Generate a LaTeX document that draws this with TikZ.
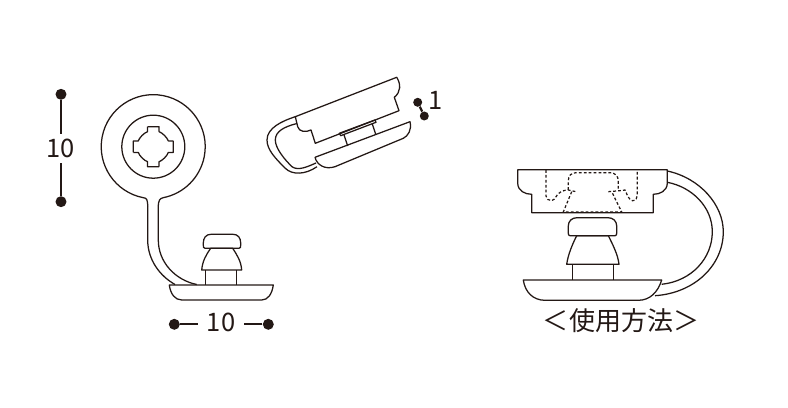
\documentclass[tikz,border=0pt]{standalone}
\usepackage{fontspec}
\setmainfont{Noto Sans CJK JP}
\definecolor{inkcol}{HTML}{231815}
\tikzset{
  part/.style={draw=inkcol,line width=0.72pt,line join=round},
  hidden/.style={draw=inkcol,line width=0.7pt,dash pattern=on 1.6pt off 1.2pt},
  dimline/.style={draw=inkcol,line width=1.25pt},
  dimdot/.style={circle,fill=inkcol,inner sep=0pt,minimum size=0.22cm},
  dimtext/.style={text=inkcol,inner sep=0pt,font=\fontsize{14.5pt}{16pt}\selectfont}
}
\begin{document}
\begin{tikzpicture}[x=0.02cm,y=-0.02cm]
\useasboundingbox (0,0) rectangle (788,408);
% disc with stem
\draw[part] (153.3,146.7) circle (31.5);
\draw[part] (147.7,207) .. controls (147.7,200) and (147,198) .. (143.3,197.7)
  arc[start angle=101,delta angle=338,radius=52]
  .. controls (160,198.5) and (158.3,200) .. (158.3,207)
  -- (158.3,240) .. controls (158.3,262) and (175,280) .. (196.7,284.5);
\draw[part] (147.7,207) -- (147.7,240) .. controls (147.7,260) and (160,276) .. (175,284.5);
\foreach \a in {0,90,180,270}
  \draw[part,shift={(153.3,146.7)},rotate=\a] (-5.8,-20) -- (5.8,-20) -- (5.8,-15)
    .. controls (9,-14) and (14,-9) .. (15,-5.8) -- (20,-5.8);
% stud
\draw[part] (169.3,285) -- (273.3,285) .. controls (272,294) and (268,300) .. (261.7,300)
  -- (181.7,300) .. controls (175,300) and (170.5,294) .. (169.3,285) -- cycle;
\draw[part] (205.7,285) -- (205.7,270) (236.7,285) -- (236.7,270);
\draw[part] (201.7,270) .. controls (202.5,261) and (206,255) .. (210.7,248.3)
  -- (232.7,248.3) .. controls (237,255) and (241,261) .. (241.7,270) -- cycle;
\draw[part] (205,248.3) .. controls (203.5,248.3) and (203.3,247) .. (203.3,245)
  -- (203.3,243) .. controls (203.3,238) and (206,234.3) .. (211,234.3) -- (233,234.3)
  .. controls (238,234.3) and (240.7,238) .. (240.7,243) -- (240.7,245)
  .. controls (240.7,247) and (240.5,248.3) .. (239,248.3) -- cycle;
% folded view
\draw[part] (295.3,116.7) -- (396.7,77.3) .. controls (401,84) and (401,92) .. (394.3,97.3)
  -- (399,110.7) -- (315.3,143.3) -- (311,130) .. controls (306,132.5) and (299,132) .. (297.7,126.7) -- cycle;
\draw[part] (295.3,116.7) .. controls (282,121) and (267,128) .. (267,140)
  .. controls (267,150) and (276,159) .. (285.3,168.3)
  .. controls (292,175) and (305,175) .. (317,166.7);
\draw[part] (297,123.5) .. controls (285,126.5) and (275.3,131) .. (275.3,140)
  .. controls (275.3,148) and (284,159) .. (292,166.7)
  .. controls (298,171) and (307,167) .. (316,163);
\draw[part] (315,157.3) -- (410,121.7) .. controls (412,130) and (408,136) .. (403.3,138.3)
  -- (335,166.7) .. controls (325,170) and (317,165) .. (315,157.3);
\draw[part] (339.3,133.3) -- (375,120) -- (376,122.3) -- (340.7,135.7) -- cycle;
\draw[part] (344,135) -- (347.7,146) (372.3,124) -- (375.7,134.3);
% mounted view
\draw[part] (667.3,171) .. controls (700,178) and (723.3,205) .. (723.3,231.7)
  .. controls (723.3,265) and (695,293) .. (655,295.7);
\draw[part] (667.3,182.3) .. controls (692,187) and (712.3,207) .. (712.3,231.7)
  .. controls (712.3,258) and (692,281) .. (661.7,284.3);
\draw[part] (517.7,169.7) -- (667.3,169.7) -- (667.3,183.3)
  .. controls (667,191) and (660,194.3) .. (653.3,194.3) -- (653.3,212.7) -- (531.7,212.7) -- (531.7,194.3)
  .. controls (525,194.3) and (518,191) .. (517.7,183.3) -- cycle;
\draw[hidden] (546,170) -- (546,196) .. controls (546,199) and (549,200.7) .. (551.7,200.7)
  .. controls (556,200.7) and (556,190) .. (568.3,190) -- (576,191.7);
\draw[hidden] (571.7,191.7) -- (563.3,212) -- (621.7,212) -- (611.7,191.7);
\draw[hidden] (568.3,190) -- (568.3,181) .. controls (568.3,176) and (571,172.7) .. (576,172.7)
  -- (610,172.7) .. controls (615,172.7) and (618.3,176) .. (618.3,181) -- (618.3,190);
\draw[hidden] (608.3,191.7) -- (620,190.7) -- (625,190)
  .. controls (628,197) and (630,200.7) .. (632.5,200.7)
  .. controls (636,200.7) and (637.3,198) .. (637.3,195) -- (637.3,170);
\draw[part] (570,235.7) .. controls (568.6,235.7) and (568.3,234.5) .. (568.3,233) -- (568.3,226)
  .. controls (568.3,221) and (572,217.7) .. (577,217.7) -- (608,217.7)
  .. controls (613,217.7) and (616.7,221) .. (616.7,226) -- (616.7,233)
  .. controls (616.7,234.5) and (616.4,235.7) .. (615,235.7) -- cycle;
\draw[part] (566.7,264.3) .. controls (568,255) and (572,245) .. (576.7,235.7)
  -- (608.3,235.7) .. controls (613,245) and (618,255) .. (619,264.3) -- cycle;
\draw[part] (572.3,264.3) -- (572.3,280) (613.3,264.3) -- (613.3,280);
\draw[part] (523.3,280) -- (661.7,280) .. controls (658,292) and (650,300.3) .. (638.3,300.3)
  -- (545,300.3) .. controls (533,300.3) and (525,292) .. (523.3,280) -- cycle;
% dimensions
\node[dimdot] (heighttop) at (61,94.3) {};
\node[dimdot] (heightbot) at (61,201.7) {};
\node[dimtext,inner ysep=0.09cm] (heightval) at (60.5,148.5) {10};
\draw[dimline] (heighttop) -- (heighttop |- heightval.north);
\draw[dimline] (heightbot) -- (heightbot |- heightval.south);
\node[dimdot] (widthleft) at (174.3,324.3) {};
\node[dimdot] (widthright) at (268.3,324.3) {};
\node[dimtext,inner xsep=0.18cm] (widthval) at (221,322.8) {10};
\draw[dimline] (widthleft) -- (widthleft -| widthval.west);
\draw[dimline] (widthright) -- (widthright -| widthval.east);
\node[dimdot,minimum size=0.18cm] (thicktop) at (417.7,102.3) {};
\node[dimdot,minimum size=0.18cm] (thickbot) at (424.3,116) {};
\node[dimtext] (thickval) at (435.5,100) {1};
\draw[dimline] (thicktop) -- (thickbot);
\node[dimtext,font=\fontsize{14.8pt}{16pt}\selectfont] (usage) at (621,320.7) {＜使用方法＞};
\end{tikzpicture}
\end{document}
